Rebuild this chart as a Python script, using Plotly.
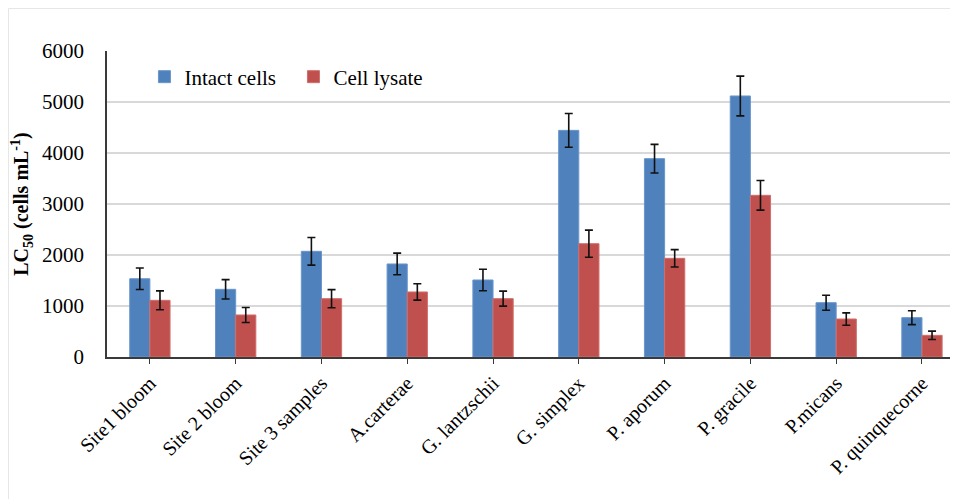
import plotly.graph_objects as go

categories = ["Site1 bloom", "Site 2 bloom", "Site 3 samples", "A.carterae", "G. lantzschii",
              "G. simplex", "P. aporum", "P. gracile", "P.micans", "P. quinquecorne"]
intact = [1535, 1327, 2072, 1824, 1510, 4444, 3889, 5118, 1065, 771]
intact_err = [210, 190, 270, 212, 212, 330, 280, 390, 147, 137]
lysate = [1111, 824, 1144, 1275, 1144, 2222, 1935, 3170, 745, 425]
lysate_err = [185, 147, 177, 160, 147, 265, 170, 290, 121, 82]

font_family = "Liberation Serif, Times New Roman, serif"

# page body has an 8px margin: figure is drawn at (8, 8)
W, H = 950, 491
L, R, T, B = 99, 0, 43, 142
PW, PH = W - L - R, H - T - B

fig = go.Figure()
fig.add_trace(go.Bar(
    x=categories, y=intact, name="Intact cells",
    marker=dict(color="#4F81BD", line=dict(color="#6A96CC", width=1)),
    error_y=dict(type="data", array=intact_err, color="#111111", thickness=1.6, width=4),
))
fig.add_trace(go.Bar(
    x=categories, y=lysate, name="Cell lysate",
    marker=dict(color="#C0504D", line=dict(color="#D06E6B", width=1)),
    error_y=dict(type="data", array=lysate_err, color="#111111", thickness=1.6, width=4),
))

# faint chart-area border (top and left)
fig.add_shape(type="line", xref="paper", yref="paper",
              x0=(0.5 - L) / PW, x1=1.0, y0=(PH + T - 0.5) / PH, y1=(PH + T - 0.5) / PH,
              line=dict(color="#E6E6E6", width=1), layer="below")
fig.add_shape(type="line", xref="paper", yref="paper",
              x0=(0.5 - L) / PW, x1=(0.5 - L) / PW, y0=-B / PH, y1=(PH + T - 0.5) / PH,
              line=dict(color="#E6E6E6", width=1), layer="below")

fig.update_layout(
    width=W, height=H,
    margin=dict(l=L, r=R, t=T, b=B, autoexpand=False),
    paper_bgcolor="white", plot_bgcolor="white",
    barmode="group", bargap=0.53, bargroupgap=0,
    font=dict(family=font_family, size=21, color="black"),
    legend=dict(orientation="h", x=0.044, y=0.915, xanchor="left", yanchor="middle",
                font=dict(size=21, family=font_family, color="black"),
                bgcolor="rgba(0,0,0,0)", itemwidth=30, traceorder="normal",
                entrywidth=104),
    showlegend=True,
)
fig.update_xaxes(
    type="category", range=[-0.5, 9.42], automargin=False,
    tickangle=-45, tickfont=dict(size=20, family=font_family, color="black"),
    showline=True, linecolor="#3a3a3a", linewidth=1.5,
    ticks="outside", ticklen=5, tickcolor="#3a3a3a", tickwidth=1,
    showgrid=False,
)
fig.update_yaxes(
    range=[0, 6000], dtick=1000, automargin=False,
    tickfont=dict(size=21, family=font_family, color="black"),
    showline=True, linecolor="#3a3a3a", linewidth=1.5,
    showgrid=True, gridcolor="#D9D9D9", gridwidth=1.5,
    ticks="", ticklabelstandoff=17,
    title=dict(text="<b>LC<sub>50</sub> (cells mL<sup>-1</sup>)</b>",
               font=dict(size=20, family=font_family, color="black"), standoff=10),
    zeroline=False,
)

fig.write_html("out.html")
